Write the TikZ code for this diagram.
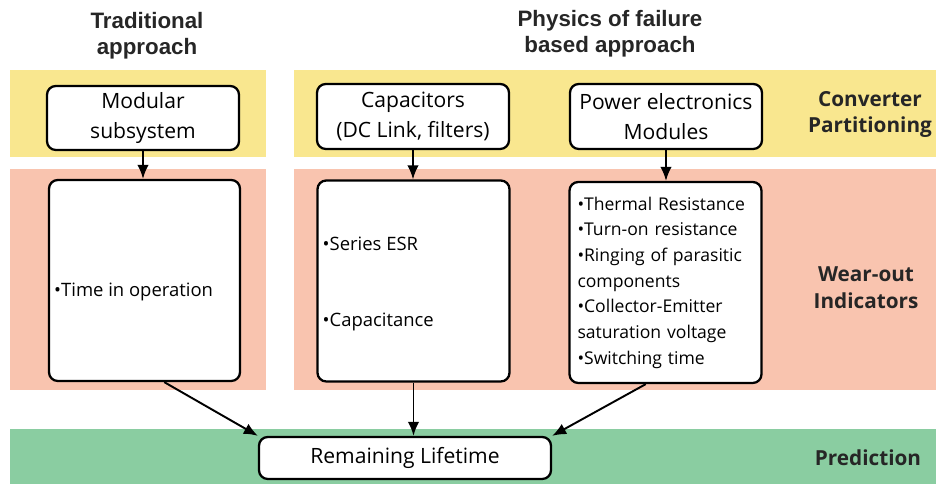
\documentclass[tikz,border=0pt]{standalone}
\usepackage{fontspec}
\setmainfont{Open Sans}
\newfontfamily\headfont{Liberation Sans}
\usetikzlibrary{arrows.meta,positioning,calc}
\definecolor{bandyellow}{RGB}{249,231,143}
\definecolor{bandsalmon}{RGB}{249,196,175}
\definecolor{bandgreen}{RGB}{138,205,161}

\begin{document}
\begin{tikzpicture}[>={Latex[length=2.8mm,width=2.3mm]},font=\fontsize{12}{17}\selectfont]
  \tikzstyle{box}=[draw,rounded corners=5pt,line width=1.3pt,fill=white,minimum width=3.84cm,align=center]
  \tikzstyle{tallbox}=[box,minimum height=4.02cm]
  \tikzstyle{head}=[align=center,font=\headfont\bfseries\fontsize{12.7}{14.6}\selectfont,text=black!85]
  \tikzstyle{stage}=[align=center,font=\bfseries\fontsize{11.8}{15.3}\selectfont,text=black!85]
  \tikzstyle{item}=[anchor=west,inner sep=0pt,font=\fontsize{10.5}{14}\selectfont]
  \useasboundingbox (0,0) rectangle (18.72,9.68);
  % bands
  \fill[bandyellow] (0.2,6.54) rectangle (5.32,8.28);
  \fill[bandyellow] (5.88,6.54) rectangle (18.72,8.28);
  \fill[bandsalmon] (0.2,1.88) rectangle (5.32,6.30);
  \fill[bandsalmon] (5.88,1.88) rectangle (18.72,6.30);
  \fill[bandgreen] (0.2,0) rectangle (18.72,1.10);
  % column titles and stage names
  \node[head] (trad) at (2.94,8.96) {Traditional\\approach};
  \node[head] (pof) at (12.2,9.0) {Physics of failure\\based approach};
  \node[stage] (part) at (17.4,7.39) {Converter\\Partitioning};
  \node[stage] (wear) at (17.32,3.93) {Wear-out\\Indicators};
  \node[stage] (pred) at (17.36,0.53) {Prediction};
  % partitioning
  \node[box,minimum height=1.28cm] (modular) at (2.86,7.32) {Modular\\subsystem};
  \node[box,minimum height=1.3cm] (caps) at (8.26,7.35) {Capacitors\\(DC Link, filters)};
  \node[box,minimum height=1.3cm] (power) at (13.32,7.35) {Power electronics\\Modules};
  % indicators
  \node[tallbox,minimum width=3.82cm] (time) at (2.89,4.07) {};
  \node[tallbox] (esr) at (8.27,4.06) {};
  \node[tallbox,align=left,text width=3.52cm,inner sep=0.16cm,font=\fontsize{10}{14.6}\selectfont] (therm) at (13.31,4.03)
    {•Thermal Resistance\\•Turn-on resistance\\•Ringing of parasitic\\components\\•Collector-Emitter\\saturation voltage\\•Switching time};
  \node[item] (optime) at ($(time.west)+(0.12,-0.22)$) {•Time in operation};
  \node[item] (series) at ($(esr.west)+(0.12,0.74)$) {•Series ESR};
  \node[item] (capac) at ($(esr.west)+(0.12,-0.82)$) {•Capacitance};
  % prediction
  \node[box,minimum width=5.84cm,minimum height=0.84cm] (remain) at (8.1,0.52) {Remaining Lifetime};
  % arrows
  \draw[->,line width=1.1pt] (modular.south) -- (modular.south |- time.north);
  \draw[->,line width=1.1pt] (caps.south) -- (caps.south |- esr.north);
  \draw[->,line width=1.1pt] (power.south) -- (power.south |- therm.north);
  \draw[->,line width=1.1pt] (time.-79) -- (remain.north west);
  \draw[->,line width=1.1pt] (esr.south) -- (esr.south |- remain.north);
  \draw[->,line width=1.1pt] (therm.-101) -- (remain.north east);
\end{tikzpicture}
\end{document}
